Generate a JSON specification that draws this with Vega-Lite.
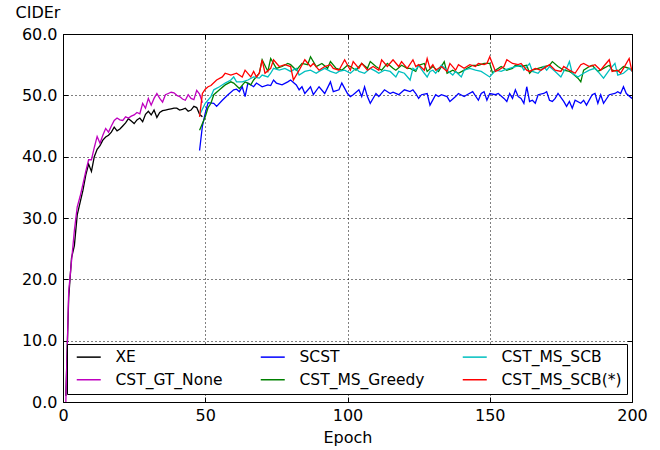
{
"$schema":"https://vega.github.io/schema/vega-lite/v6.json",
"width":569,"height":368,
"autosize":{"type":"none"},
"padding":{"left":63,"top":34,"right":28,"bottom":48},
"layer":[
{"data":{"values":[
{"model":"XE","epoch":1,"cider":1.0},{"model":"XE","epoch":2,"cider":17.0},{"model":"XE","epoch":3,"cider":23.5},{"model":"XE","epoch":4,"cider":25.5},{"model":"XE","epoch":5,"cider":30.5},{"model":"XE","epoch":6,"cider":32.5},{"model":"XE","epoch":7,"cider":34.5},{"model":"XE","epoch":8,"cider":37.0},{"model":"XE","epoch":9,"cider":38.8},{"model":"XE","epoch":10,"cider":37.6},{"model":"XE","epoch":11,"cider":40.0},{"model":"XE","epoch":12,"cider":41.2},{"model":"XE","epoch":13,"cider":41.8},{"model":"XE","epoch":14,"cider":42.7},{"model":"XE","epoch":15,"cider":43.2},{"model":"XE","epoch":16,"cider":43.5},{"model":"XE","epoch":17,"cider":44.0},{"model":"XE","epoch":18,"cider":44.8},{"model":"XE","epoch":19,"cider":44.2},{"model":"XE","epoch":20,"cider":44.5},{"model":"XE","epoch":21,"cider":45.0},{"model":"XE","epoch":22,"cider":45.5},{"model":"XE","epoch":23,"cider":46.2},{"model":"XE","epoch":24,"cider":45.8},{"model":"XE","epoch":25,"cider":45.4},{"model":"XE","epoch":26,"cider":46.0},{"model":"XE","epoch":27,"cider":46.3},{"model":"XE","epoch":28,"cider":45.7},{"model":"XE","epoch":29,"cider":46.9},{"model":"XE","epoch":30,"cider":47.4},{"model":"XE","epoch":31,"cider":46.8},{"model":"XE","epoch":32,"cider":47.6},{"model":"XE","epoch":33,"cider":46.4},{"model":"XE","epoch":34,"cider":47.2},{"model":"XE","epoch":35,"cider":47.5},{"model":"XE","epoch":36,"cider":47.6},{"model":"XE","epoch":37,"cider":47.7},{"model":"XE","epoch":38,"cider":47.8},{"model":"XE","epoch":39,"cider":47.9},{"model":"XE","epoch":40,"cider":47.9},{"model":"XE","epoch":41,"cider":47.6},{"model":"XE","epoch":42,"cider":47.7},{"model":"XE","epoch":43,"cider":47.9},{"model":"XE","epoch":44,"cider":47.4},{"model":"XE","epoch":45,"cider":47.6},{"model":"XE","epoch":46,"cider":48.2},{"model":"XE","epoch":47,"cider":48.0},{"model":"XE","epoch":48,"cider":46.9},{"model":"XE","epoch":49,"cider":46.5},
{"model":"CST_GT_None","epoch":1,"cider":0.0},{"model":"CST_GT_None","epoch":2,"cider":18.0},{"model":"CST_GT_None","epoch":3,"cider":23.0},{"model":"CST_GT_None","epoch":4,"cider":28.0},{"model":"CST_GT_None","epoch":5,"cider":31.8},{"model":"CST_GT_None","epoch":6,"cider":33.5},{"model":"CST_GT_None","epoch":7,"cider":35.5},{"model":"CST_GT_None","epoch":8,"cider":37.6},{"model":"CST_GT_None","epoch":9,"cider":39.5},{"model":"CST_GT_None","epoch":10,"cider":39.5},{"model":"CST_GT_None","epoch":11,"cider":41.5},{"model":"CST_GT_None","epoch":12,"cider":43.3},{"model":"CST_GT_None","epoch":13,"cider":42.2},{"model":"CST_GT_None","epoch":14,"cider":43.5},{"model":"CST_GT_None","epoch":15,"cider":44.6},{"model":"CST_GT_None","epoch":16,"cider":44.0},{"model":"CST_GT_None","epoch":17,"cider":45.0},{"model":"CST_GT_None","epoch":18,"cider":45.9},{"model":"CST_GT_None","epoch":19,"cider":46.3},{"model":"CST_GT_None","epoch":20,"cider":46.0},{"model":"CST_GT_None","epoch":21,"cider":45.9},{"model":"CST_GT_None","epoch":22,"cider":46.5},{"model":"CST_GT_None","epoch":23,"cider":46.3},{"model":"CST_GT_None","epoch":24,"cider":46.6},{"model":"CST_GT_None","epoch":25,"cider":46.8},{"model":"CST_GT_None","epoch":26,"cider":47.2},{"model":"CST_GT_None","epoch":27,"cider":47.0},{"model":"CST_GT_None","epoch":28,"cider":48.7},{"model":"CST_GT_None","epoch":29,"cider":47.9},{"model":"CST_GT_None","epoch":30,"cider":49.5},{"model":"CST_GT_None","epoch":31,"cider":48.4},{"model":"CST_GT_None","epoch":32,"cider":49.5},{"model":"CST_GT_None","epoch":33,"cider":50.3},{"model":"CST_GT_None","epoch":34,"cider":49.5},{"model":"CST_GT_None","epoch":35,"cider":48.9},{"model":"CST_GT_None","epoch":36,"cider":50.1},{"model":"CST_GT_None","epoch":37,"cider":50.3},{"model":"CST_GT_None","epoch":38,"cider":50.5},{"model":"CST_GT_None","epoch":39,"cider":50.4},{"model":"CST_GT_None","epoch":40,"cider":50.0},{"model":"CST_GT_None","epoch":41,"cider":49.8},{"model":"CST_GT_None","epoch":42,"cider":49.4},{"model":"CST_GT_None","epoch":43,"cider":49.2},{"model":"CST_GT_None","epoch":44,"cider":50.1},{"model":"CST_GT_None","epoch":45,"cider":49.5},{"model":"CST_GT_None","epoch":46,"cider":49.3},{"model":"CST_GT_None","epoch":47,"cider":50.8},{"model":"CST_GT_None","epoch":48,"cider":50.2},{"model":"CST_GT_None","epoch":49,"cider":48.8},
{"model":"SCST","epoch":48,"cider":41.0},{"model":"SCST","epoch":49,"cider":45.0},{"model":"SCST","epoch":50,"cider":47.1},{"model":"SCST","epoch":51,"cider":48.8},{"model":"SCST","epoch":53,"cider":48.7},{"model":"SCST","epoch":54,"cider":48.2},{"model":"SCST","epoch":56,"cider":49.2},{"model":"SCST","epoch":58,"cider":50.1},{"model":"SCST","epoch":60,"cider":50.9},{"model":"SCST","epoch":61,"cider":51.0},{"model":"SCST","epoch":62,"cider":50.6},{"model":"SCST","epoch":63,"cider":51.4},{"model":"SCST","epoch":64,"cider":49.8},{"model":"SCST","epoch":65,"cider":52.0},{"model":"SCST","epoch":67,"cider":51.4},{"model":"SCST","epoch":68,"cider":52.0},{"model":"SCST","epoch":70,"cider":51.4},{"model":"SCST","epoch":72,"cider":51.7},{"model":"SCST","epoch":73,"cider":51.6},{"model":"SCST","epoch":74,"cider":52.5},{"model":"SCST","epoch":75,"cider":52.0},{"model":"SCST","epoch":77,"cider":51.7},{"model":"SCST","epoch":79,"cider":52.2},{"model":"SCST","epoch":80,"cider":52.5},{"model":"SCST","epoch":82,"cider":51.7},{"model":"SCST","epoch":83,"cider":50.9},{"model":"SCST","epoch":84,"cider":51.4},{"model":"SCST","epoch":85,"cider":50.3},{"model":"SCST","epoch":87,"cider":51.4},{"model":"SCST","epoch":88,"cider":50.1},{"model":"SCST","epoch":90,"cider":51.4},{"model":"SCST","epoch":92,"cider":50.3},{"model":"SCST","epoch":94,"cider":52.2},{"model":"SCST","epoch":95,"cider":50.6},{"model":"SCST","epoch":97,"cider":50.9},{"model":"SCST","epoch":98,"cider":52.0},{"model":"SCST","epoch":100,"cider":50.3},{"model":"SCST","epoch":101,"cider":49.8},{"model":"SCST","epoch":102,"cider":50.1},{"model":"SCST","epoch":104,"cider":50.9},{"model":"SCST","epoch":105,"cider":49.8},{"model":"SCST","epoch":106,"cider":51.4},{"model":"SCST","epoch":107,"cider":49.8},{"model":"SCST","epoch":108,"cider":48.7},{"model":"SCST","epoch":110,"cider":50.3},{"model":"SCST","epoch":111,"cider":49.8},{"model":"SCST","epoch":113,"cider":50.9},{"model":"SCST","epoch":115,"cider":50.3},{"model":"SCST","epoch":116,"cider":50.5},{"model":"SCST","epoch":118,"cider":50.1},{"model":"SCST","epoch":120,"cider":50.9},{"model":"SCST","epoch":122,"cider":50.6},{"model":"SCST","epoch":123,"cider":50.9},{"model":"SCST","epoch":124,"cider":50.3},{"model":"SCST","epoch":125,"cider":49.5},{"model":"SCST","epoch":126,"cider":50.1},{"model":"SCST","epoch":128,"cider":50.3},{"model":"SCST","epoch":129,"cider":48.4},{"model":"SCST","epoch":131,"cider":50.1},{"model":"SCST","epoch":132,"cider":49.8},{"model":"SCST","epoch":133,"cider":50.1},{"model":"SCST","epoch":135,"cider":49.8},{"model":"SCST","epoch":136,"cider":49.0},{"model":"SCST","epoch":138,"cider":49.8},{"model":"SCST","epoch":139,"cider":50.3},{"model":"SCST","epoch":141,"cider":49.8},{"model":"SCST","epoch":142,"cider":50.1},{"model":"SCST","epoch":144,"cider":50.6},{"model":"SCST","epoch":146,"cider":49.2},{"model":"SCST","epoch":147,"cider":50.3},{"model":"SCST","epoch":148,"cider":50.6},{"model":"SCST","epoch":149,"cider":49.2},{"model":"SCST","epoch":150,"cider":50.3},{"model":"SCST","epoch":152,"cider":50.1},{"model":"SCST","epoch":153,"cider":50.3},{"model":"SCST","epoch":155,"cider":49.5},{"model":"SCST","epoch":156,"cider":49.0},{"model":"SCST","epoch":157,"cider":50.3},{"model":"SCST","epoch":158,"cider":49.5},{"model":"SCST","epoch":159,"cider":50.9},{"model":"SCST","epoch":160,"cider":49.8},{"model":"SCST","epoch":161,"cider":49.5},{"model":"SCST","epoch":162,"cider":48.7},{"model":"SCST","epoch":163,"cider":51.4},{"model":"SCST","epoch":164,"cider":49.0},{"model":"SCST","epoch":165,"cider":49.2},{"model":"SCST","epoch":166,"cider":48.7},{"model":"SCST","epoch":167,"cider":50.1},{"model":"SCST","epoch":169,"cider":50.3},{"model":"SCST","epoch":170,"cider":50.6},{"model":"SCST","epoch":171,"cider":49.2},{"model":"SCST","epoch":172,"cider":49.0},{"model":"SCST","epoch":173,"cider":49.5},{"model":"SCST","epoch":174,"cider":50.3},{"model":"SCST","epoch":176,"cider":49.0},{"model":"SCST","epoch":177,"cider":48.2},{"model":"SCST","epoch":178,"cider":49.0},{"model":"SCST","epoch":179,"cider":47.9},{"model":"SCST","epoch":180,"cider":49.2},{"model":"SCST","epoch":182,"cider":48.7},{"model":"SCST","epoch":183,"cider":49.2},{"model":"SCST","epoch":184,"cider":48.4},{"model":"SCST","epoch":186,"cider":50.1},{"model":"SCST","epoch":187,"cider":50.3},{"model":"SCST","epoch":188,"cider":48.7},{"model":"SCST","epoch":189,"cider":50.1},{"model":"SCST","epoch":190,"cider":48.7},{"model":"SCST","epoch":192,"cider":50.1},{"model":"SCST","epoch":194,"cider":50.3},{"model":"SCST","epoch":195,"cider":50.6},{"model":"SCST","epoch":196,"cider":50.3},{"model":"SCST","epoch":197,"cider":51.4},{"model":"SCST","epoch":198,"cider":50.3},{"model":"SCST","epoch":200,"cider":49.5},
{"model":"CST_MS_Greedy","epoch":48,"cider":44.3},{"model":"CST_MS_Greedy","epoch":50,"cider":46.5},{"model":"CST_MS_Greedy","epoch":51,"cider":48.0},{"model":"CST_MS_Greedy","epoch":52,"cider":48.7},{"model":"CST_MS_Greedy","epoch":53,"cider":50.1},{"model":"CST_MS_Greedy","epoch":55,"cider":50.9},{"model":"CST_MS_Greedy","epoch":57,"cider":51.7},{"model":"CST_MS_Greedy","epoch":59,"cider":52.2},{"model":"CST_MS_Greedy","epoch":60,"cider":52.0},{"model":"CST_MS_Greedy","epoch":62,"cider":51.1},{"model":"CST_MS_Greedy","epoch":64,"cider":52.2},{"model":"CST_MS_Greedy","epoch":66,"cider":51.7},{"model":"CST_MS_Greedy","epoch":67,"cider":52.5},{"model":"CST_MS_Greedy","epoch":69,"cider":53.6},{"model":"CST_MS_Greedy","epoch":70,"cider":55.8},{"model":"CST_MS_Greedy","epoch":72,"cider":53.9},{"model":"CST_MS_Greedy","epoch":73,"cider":56.0},{"model":"CST_MS_Greedy","epoch":75,"cider":54.4},{"model":"CST_MS_Greedy","epoch":77,"cider":54.7},{"model":"CST_MS_Greedy","epoch":79,"cider":55.2},{"model":"CST_MS_Greedy","epoch":80,"cider":55.0},{"model":"CST_MS_Greedy","epoch":82,"cider":54.1},{"model":"CST_MS_Greedy","epoch":84,"cider":55.2},{"model":"CST_MS_Greedy","epoch":86,"cider":55.0},{"model":"CST_MS_Greedy","epoch":87,"cider":56.3},{"model":"CST_MS_Greedy","epoch":89,"cider":54.7},{"model":"CST_MS_Greedy","epoch":91,"cider":55.2},{"model":"CST_MS_Greedy","epoch":93,"cider":54.4},{"model":"CST_MS_Greedy","epoch":94,"cider":55.5},{"model":"CST_MS_Greedy","epoch":96,"cider":54.4},{"model":"CST_MS_Greedy","epoch":98,"cider":54.1},{"model":"CST_MS_Greedy","epoch":100,"cider":54.9},{"model":"CST_MS_Greedy","epoch":101,"cider":54.7},{"model":"CST_MS_Greedy","epoch":103,"cider":54.1},{"model":"CST_MS_Greedy","epoch":105,"cider":55.2},{"model":"CST_MS_Greedy","epoch":107,"cider":54.4},{"model":"CST_MS_Greedy","epoch":108,"cider":55.5},{"model":"CST_MS_Greedy","epoch":110,"cider":54.7},{"model":"CST_MS_Greedy","epoch":112,"cider":54.1},{"model":"CST_MS_Greedy","epoch":114,"cider":55.2},{"model":"CST_MS_Greedy","epoch":116,"cider":54.4},{"model":"CST_MS_Greedy","epoch":117,"cider":54.1},{"model":"CST_MS_Greedy","epoch":119,"cider":54.9},{"model":"CST_MS_Greedy","epoch":121,"cider":54.4},{"model":"CST_MS_Greedy","epoch":122,"cider":54.4},{"model":"CST_MS_Greedy","epoch":124,"cider":53.9},{"model":"CST_MS_Greedy","epoch":125,"cider":54.9},{"model":"CST_MS_Greedy","epoch":127,"cider":55.2},{"model":"CST_MS_Greedy","epoch":128,"cider":53.9},{"model":"CST_MS_Greedy","epoch":130,"cider":54.7},{"model":"CST_MS_Greedy","epoch":132,"cider":53.9},{"model":"CST_MS_Greedy","epoch":134,"cider":55.5},{"model":"CST_MS_Greedy","epoch":135,"cider":53.6},{"model":"CST_MS_Greedy","epoch":137,"cider":54.1},{"model":"CST_MS_Greedy","epoch":139,"cider":53.6},{"model":"CST_MS_Greedy","epoch":141,"cider":54.1},{"model":"CST_MS_Greedy","epoch":142,"cider":54.4},{"model":"CST_MS_Greedy","epoch":144,"cider":54.9},{"model":"CST_MS_Greedy","epoch":146,"cider":54.9},{"model":"CST_MS_Greedy","epoch":148,"cider":55.2},{"model":"CST_MS_Greedy","epoch":150,"cider":55.2},{"model":"CST_MS_Greedy","epoch":151,"cider":53.6},{"model":"CST_MS_Greedy","epoch":152,"cider":54.1},{"model":"CST_MS_Greedy","epoch":154,"cider":54.7},{"model":"CST_MS_Greedy","epoch":156,"cider":54.1},{"model":"CST_MS_Greedy","epoch":158,"cider":54.4},{"model":"CST_MS_Greedy","epoch":159,"cider":54.9},{"model":"CST_MS_Greedy","epoch":161,"cider":54.7},{"model":"CST_MS_Greedy","epoch":163,"cider":54.9},{"model":"CST_MS_Greedy","epoch":164,"cider":53.6},{"model":"CST_MS_Greedy","epoch":165,"cider":54.1},{"model":"CST_MS_Greedy","epoch":167,"cider":54.4},{"model":"CST_MS_Greedy","epoch":169,"cider":54.7},{"model":"CST_MS_Greedy","epoch":171,"cider":54.9},{"model":"CST_MS_Greedy","epoch":172,"cider":55.5},{"model":"CST_MS_Greedy","epoch":174,"cider":54.7},{"model":"CST_MS_Greedy","epoch":176,"cider":54.1},{"model":"CST_MS_Greedy","epoch":178,"cider":53.9},{"model":"CST_MS_Greedy","epoch":179,"cider":53.6},{"model":"CST_MS_Greedy","epoch":181,"cider":52.8},{"model":"CST_MS_Greedy","epoch":182,"cider":52.2},{"model":"CST_MS_Greedy","epoch":183,"cider":54.1},{"model":"CST_MS_Greedy","epoch":185,"cider":54.7},{"model":"CST_MS_Greedy","epoch":186,"cider":54.9},{"model":"CST_MS_Greedy","epoch":188,"cider":53.9},{"model":"CST_MS_Greedy","epoch":190,"cider":54.4},{"model":"CST_MS_Greedy","epoch":192,"cider":54.9},{"model":"CST_MS_Greedy","epoch":193,"cider":54.1},{"model":"CST_MS_Greedy","epoch":195,"cider":53.9},{"model":"CST_MS_Greedy","epoch":197,"cider":54.7},{"model":"CST_MS_Greedy","epoch":199,"cider":54.4},{"model":"CST_MS_Greedy","epoch":200,"cider":54.1},
{"model":"CST_MS_SCB","epoch":48,"cider":46.8},{"model":"CST_MS_SCB","epoch":50,"cider":48.7},{"model":"CST_MS_SCB","epoch":52,"cider":49.8},{"model":"CST_MS_SCB","epoch":53,"cider":50.9},{"model":"CST_MS_SCB","epoch":55,"cider":51.4},{"model":"CST_MS_SCB","epoch":57,"cider":52.0},{"model":"CST_MS_SCB","epoch":59,"cider":52.5},{"model":"CST_MS_SCB","epoch":60,"cider":53.0},{"model":"CST_MS_SCB","epoch":61,"cider":52.2},{"model":"CST_MS_SCB","epoch":63,"cider":52.2},{"model":"CST_MS_SCB","epoch":65,"cider":52.5},{"model":"CST_MS_SCB","epoch":67,"cider":53.0},{"model":"CST_MS_SCB","epoch":69,"cider":52.8},{"model":"CST_MS_SCB","epoch":70,"cider":53.3},{"model":"CST_MS_SCB","epoch":72,"cider":53.0},{"model":"CST_MS_SCB","epoch":73,"cider":53.6},{"model":"CST_MS_SCB","epoch":74,"cider":54.4},{"model":"CST_MS_SCB","epoch":76,"cider":54.1},{"model":"CST_MS_SCB","epoch":78,"cider":54.4},{"model":"CST_MS_SCB","epoch":80,"cider":53.9},{"model":"CST_MS_SCB","epoch":82,"cider":54.4},{"model":"CST_MS_SCB","epoch":83,"cider":53.3},{"model":"CST_MS_SCB","epoch":85,"cider":53.9},{"model":"CST_MS_SCB","epoch":87,"cider":54.1},{"model":"CST_MS_SCB","epoch":89,"cider":53.6},{"model":"CST_MS_SCB","epoch":90,"cider":53.9},{"model":"CST_MS_SCB","epoch":92,"cider":54.4},{"model":"CST_MS_SCB","epoch":94,"cider":53.9},{"model":"CST_MS_SCB","epoch":96,"cider":53.6},{"model":"CST_MS_SCB","epoch":97,"cider":53.9},{"model":"CST_MS_SCB","epoch":99,"cider":54.1},{"model":"CST_MS_SCB","epoch":101,"cider":53.6},{"model":"CST_MS_SCB","epoch":103,"cider":54.4},{"model":"CST_MS_SCB","epoch":104,"cider":53.9},{"model":"CST_MS_SCB","epoch":106,"cider":53.6},{"model":"CST_MS_SCB","epoch":108,"cider":54.4},{"model":"CST_MS_SCB","epoch":110,"cider":53.9},{"model":"CST_MS_SCB","epoch":111,"cider":53.6},{"model":"CST_MS_SCB","epoch":113,"cider":54.1},{"model":"CST_MS_SCB","epoch":115,"cider":53.9},{"model":"CST_MS_SCB","epoch":117,"cider":53.0},{"model":"CST_MS_SCB","epoch":118,"cider":53.9},{"model":"CST_MS_SCB","epoch":120,"cider":53.6},{"model":"CST_MS_SCB","epoch":122,"cider":52.5},{"model":"CST_MS_SCB","epoch":123,"cider":54.4},{"model":"CST_MS_SCB","epoch":124,"cider":54.1},{"model":"CST_MS_SCB","epoch":125,"cider":54.9},{"model":"CST_MS_SCB","epoch":127,"cider":53.6},{"model":"CST_MS_SCB","epoch":128,"cider":53.0},{"model":"CST_MS_SCB","epoch":129,"cider":53.9},{"model":"CST_MS_SCB","epoch":130,"cider":54.1},{"model":"CST_MS_SCB","epoch":131,"cider":53.6},{"model":"CST_MS_SCB","epoch":133,"cider":54.9},{"model":"CST_MS_SCB","epoch":135,"cider":54.1},{"model":"CST_MS_SCB","epoch":137,"cider":53.3},{"model":"CST_MS_SCB","epoch":138,"cider":53.9},{"model":"CST_MS_SCB","epoch":140,"cider":53.0},{"model":"CST_MS_SCB","epoch":141,"cider":54.1},{"model":"CST_MS_SCB","epoch":143,"cider":54.4},{"model":"CST_MS_SCB","epoch":145,"cider":54.1},{"model":"CST_MS_SCB","epoch":147,"cider":53.9},{"model":"CST_MS_SCB","epoch":148,"cider":53.6},{"model":"CST_MS_SCB","epoch":150,"cider":53.0},{"model":"CST_MS_SCB","epoch":152,"cider":54.1},{"model":"CST_MS_SCB","epoch":154,"cider":53.9},{"model":"CST_MS_SCB","epoch":155,"cider":54.1},{"model":"CST_MS_SCB","epoch":157,"cider":54.4},{"model":"CST_MS_SCB","epoch":159,"cider":54.7},{"model":"CST_MS_SCB","epoch":161,"cider":54.9},{"model":"CST_MS_SCB","epoch":162,"cider":54.1},{"model":"CST_MS_SCB","epoch":164,"cider":55.2},{"model":"CST_MS_SCB","epoch":165,"cider":53.9},{"model":"CST_MS_SCB","epoch":167,"cider":53.6},{"model":"CST_MS_SCB","epoch":168,"cider":54.1},{"model":"CST_MS_SCB","epoch":169,"cider":54.7},{"model":"CST_MS_SCB","epoch":170,"cider":54.1},{"model":"CST_MS_SCB","epoch":171,"cider":54.7},{"model":"CST_MS_SCB","epoch":173,"cider":53.9},{"model":"CST_MS_SCB","epoch":175,"cider":53.0},{"model":"CST_MS_SCB","epoch":176,"cider":53.9},{"model":"CST_MS_SCB","epoch":177,"cider":54.4},{"model":"CST_MS_SCB","epoch":178,"cider":55.5},{"model":"CST_MS_SCB","epoch":179,"cider":53.6},{"model":"CST_MS_SCB","epoch":181,"cider":53.0},{"model":"CST_MS_SCB","epoch":183,"cider":53.6},{"model":"CST_MS_SCB","epoch":185,"cider":54.1},{"model":"CST_MS_SCB","epoch":187,"cider":54.4},{"model":"CST_MS_SCB","epoch":188,"cider":53.9},{"model":"CST_MS_SCB","epoch":190,"cider":52.8},{"model":"CST_MS_SCB","epoch":192,"cider":54.1},{"model":"CST_MS_SCB","epoch":194,"cider":55.2},{"model":"CST_MS_SCB","epoch":195,"cider":53.3},{"model":"CST_MS_SCB","epoch":197,"cider":53.6},{"model":"CST_MS_SCB","epoch":199,"cider":54.4},{"model":"CST_MS_SCB","epoch":200,"cider":53.9},
{"model":"CST_MS_SCB(*)","epoch":48,"cider":46.5},{"model":"CST_MS_SCB(*)","epoch":49,"cider":50.3},{"model":"CST_MS_SCB(*)","epoch":50,"cider":51.0},{"model":"CST_MS_SCB(*)","epoch":51,"cider":51.4},{"model":"CST_MS_SCB(*)","epoch":52,"cider":51.6},{"model":"CST_MS_SCB(*)","epoch":54,"cider":52.5},{"model":"CST_MS_SCB(*)","epoch":56,"cider":53.0},{"model":"CST_MS_SCB(*)","epoch":57,"cider":53.6},{"model":"CST_MS_SCB(*)","epoch":59,"cider":53.3},{"model":"CST_MS_SCB(*)","epoch":61,"cider":53.6},{"model":"CST_MS_SCB(*)","epoch":63,"cider":53.0},{"model":"CST_MS_SCB(*)","epoch":64,"cider":54.1},{"model":"CST_MS_SCB(*)","epoch":66,"cider":53.0},{"model":"CST_MS_SCB(*)","epoch":67,"cider":53.9},{"model":"CST_MS_SCB(*)","epoch":68,"cider":53.0},{"model":"CST_MS_SCB(*)","epoch":69,"cider":53.6},{"model":"CST_MS_SCB(*)","epoch":70,"cider":55.8},{"model":"CST_MS_SCB(*)","epoch":71,"cider":53.6},{"model":"CST_MS_SCB(*)","epoch":73,"cider":54.4},{"model":"CST_MS_SCB(*)","epoch":74,"cider":55.8},{"model":"CST_MS_SCB(*)","epoch":76,"cider":54.7},{"model":"CST_MS_SCB(*)","epoch":78,"cider":55.0},{"model":"CST_MS_SCB(*)","epoch":80,"cider":54.7},{"model":"CST_MS_SCB(*)","epoch":81,"cider":52.5},{"model":"CST_MS_SCB(*)","epoch":83,"cider":54.1},{"model":"CST_MS_SCB(*)","epoch":85,"cider":55.8},{"model":"CST_MS_SCB(*)","epoch":87,"cider":54.7},{"model":"CST_MS_SCB(*)","epoch":88,"cider":55.2},{"model":"CST_MS_SCB(*)","epoch":90,"cider":54.1},{"model":"CST_MS_SCB(*)","epoch":92,"cider":54.7},{"model":"CST_MS_SCB(*)","epoch":94,"cider":55.0},{"model":"CST_MS_SCB(*)","epoch":95,"cider":54.4},{"model":"CST_MS_SCB(*)","epoch":97,"cider":54.1},{"model":"CST_MS_SCB(*)","epoch":99,"cider":55.8},{"model":"CST_MS_SCB(*)","epoch":101,"cider":54.1},{"model":"CST_MS_SCB(*)","epoch":102,"cider":55.5},{"model":"CST_MS_SCB(*)","epoch":104,"cider":54.4},{"model":"CST_MS_SCB(*)","epoch":105,"cider":55.2},{"model":"CST_MS_SCB(*)","epoch":107,"cider":54.1},{"model":"CST_MS_SCB(*)","epoch":109,"cider":54.7},{"model":"CST_MS_SCB(*)","epoch":111,"cider":54.1},{"model":"CST_MS_SCB(*)","epoch":112,"cider":55.8},{"model":"CST_MS_SCB(*)","epoch":114,"cider":54.7},{"model":"CST_MS_SCB(*)","epoch":116,"cider":55.8},{"model":"CST_MS_SCB(*)","epoch":118,"cider":54.7},{"model":"CST_MS_SCB(*)","epoch":119,"cider":55.5},{"model":"CST_MS_SCB(*)","epoch":121,"cider":54.4},{"model":"CST_MS_SCB(*)","epoch":123,"cider":55.8},{"model":"CST_MS_SCB(*)","epoch":124,"cider":54.7},{"model":"CST_MS_SCB(*)","epoch":125,"cider":55.0},{"model":"CST_MS_SCB(*)","epoch":127,"cider":54.1},{"model":"CST_MS_SCB(*)","epoch":128,"cider":56.0},{"model":"CST_MS_SCB(*)","epoch":129,"cider":54.4},{"model":"CST_MS_SCB(*)","epoch":130,"cider":55.0},{"model":"CST_MS_SCB(*)","epoch":131,"cider":54.1},{"model":"CST_MS_SCB(*)","epoch":133,"cider":54.7},{"model":"CST_MS_SCB(*)","epoch":135,"cider":53.9},{"model":"CST_MS_SCB(*)","epoch":136,"cider":55.2},{"model":"CST_MS_SCB(*)","epoch":138,"cider":54.1},{"model":"CST_MS_SCB(*)","epoch":139,"cider":55.0},{"model":"CST_MS_SCB(*)","epoch":141,"cider":54.4},{"model":"CST_MS_SCB(*)","epoch":143,"cider":55.0},{"model":"CST_MS_SCB(*)","epoch":145,"cider":54.7},{"model":"CST_MS_SCB(*)","epoch":146,"cider":55.2},{"model":"CST_MS_SCB(*)","epoch":148,"cider":55.0},{"model":"CST_MS_SCB(*)","epoch":149,"cider":55.2},{"model":"CST_MS_SCB(*)","epoch":150,"cider":56.3},{"model":"CST_MS_SCB(*)","epoch":152,"cider":53.9},{"model":"CST_MS_SCB(*)","epoch":153,"cider":54.1},{"model":"CST_MS_SCB(*)","epoch":155,"cider":54.7},{"model":"CST_MS_SCB(*)","epoch":156,"cider":55.8},{"model":"CST_MS_SCB(*)","epoch":158,"cider":55.2},{"model":"CST_MS_SCB(*)","epoch":160,"cider":55.0},{"model":"CST_MS_SCB(*)","epoch":161,"cider":55.2},{"model":"CST_MS_SCB(*)","epoch":163,"cider":54.1},{"model":"CST_MS_SCB(*)","epoch":164,"cider":53.9},{"model":"CST_MS_SCB(*)","epoch":166,"cider":54.4},{"model":"CST_MS_SCB(*)","epoch":168,"cider":54.1},{"model":"CST_MS_SCB(*)","epoch":169,"cider":54.4},{"model":"CST_MS_SCB(*)","epoch":171,"cider":55.0},{"model":"CST_MS_SCB(*)","epoch":173,"cider":54.1},{"model":"CST_MS_SCB(*)","epoch":175,"cider":53.9},{"model":"CST_MS_SCB(*)","epoch":176,"cider":54.7},{"model":"CST_MS_SCB(*)","epoch":178,"cider":54.1},{"model":"CST_MS_SCB(*)","epoch":180,"cider":53.6},{"model":"CST_MS_SCB(*)","epoch":182,"cider":55.0},{"model":"CST_MS_SCB(*)","epoch":183,"cider":55.2},{"model":"CST_MS_SCB(*)","epoch":185,"cider":54.7},{"model":"CST_MS_SCB(*)","epoch":187,"cider":55.0},{"model":"CST_MS_SCB(*)","epoch":189,"cider":54.1},{"model":"CST_MS_SCB(*)","epoch":190,"cider":54.7},{"model":"CST_MS_SCB(*)","epoch":192,"cider":55.8},{"model":"CST_MS_SCB(*)","epoch":193,"cider":53.9},{"model":"CST_MS_SCB(*)","epoch":195,"cider":54.1},{"model":"CST_MS_SCB(*)","epoch":196,"cider":53.6},{"model":"CST_MS_SCB(*)","epoch":197,"cider":54.4},{"model":"CST_MS_SCB(*)","epoch":199,"cider":56.0},{"model":"CST_MS_SCB(*)","epoch":200,"cider":53.9}
]},
"mark":{"type":"line","strokeWidth":1.3,"clip":true},
"encoding":{
"x":{"field":"epoch","type":"quantitative","scale":{"domain":[0,200],"nice":false,"zero":false},
"axis":{"orient":"bottom","values":[0,50,100,150,200],"title":"Epoch","grid":true,"labelFlush":false,"labelPadding":10,"titlePadding":6}},
"y":{"field":"cider","type":"quantitative","scale":{"domain":[0,60],"nice":false},
"axis":{"orient":"left","values":[0,10,20,30,40,50,60],"format":".1f","title":"CIDEr","titleAngle":0,"titleAlign":"left","titleBaseline":"alphabetic","titleX":-48,"titleY":-17,"grid":true,"labelFlush":false,"labelPadding":11}},
"color":{"field":"model","type":"nominal",
"scale":{"domain":["XE","CST_GT_None","SCST","CST_MS_Greedy","CST_MS_SCB","CST_MS_SCB(*)"],"range":["#000000","#bf00bf","#0000ff","#008000","#00bfbf","#ff0000"]},
"legend":{"orient":"none","legendX":4,"legendY":310,"columns":3,"gridAlign":"each","title":null,"symbolType":"M-4,0H4","symbolSize":36,"symbolStrokeWidth":1.5,"symbolOffset":9,"labelFont":"DejaVu Sans","labelFontSize":15.5,"labelColor":"#000","labelLimit":300,"columnPadding":33,"rowPadding":6,"padding":5,"labelOffset":19,"fillColor":"#ffffff","strokeColor":"#000000"}}
}},
{"data":{"values":[{"epoch":0,"cider":0},{"epoch":200,"cider":60}]},
"mark":{"type":"point","opacity":0},
"encoding":{
"x":{"field":"epoch","type":"quantitative","axis":{"orient":"top","values":[0,50,100,150,200],"labels":false,"grid":false,"title":null}},
"y":{"field":"cider","type":"quantitative","axis":{"orient":"right","values":[0,10,20,30,40,50,60],"labels":false,"grid":false,"title":null}}
}}
],
"resolve":{"axis":{"x":"independent","y":"independent"}},
"config":{
"font":"DejaVu Sans",
"view":{"stroke":"#000000","strokeWidth":1},
"axis":{"domain":false,"labelFont":"DejaVu Sans","labelFontSize":16,"labelColor":"#000000","tickColor":"#000000","tickSize":-5,"tickWidth":1,"gridColor":"#000000","gridDash":[1,3],"gridOpacity":1,"gridWidth":1,"titleFont":"DejaVu Sans","titleFontSize":16,"titleFontWeight":"normal","titleColor":"#000000"}
}
}
